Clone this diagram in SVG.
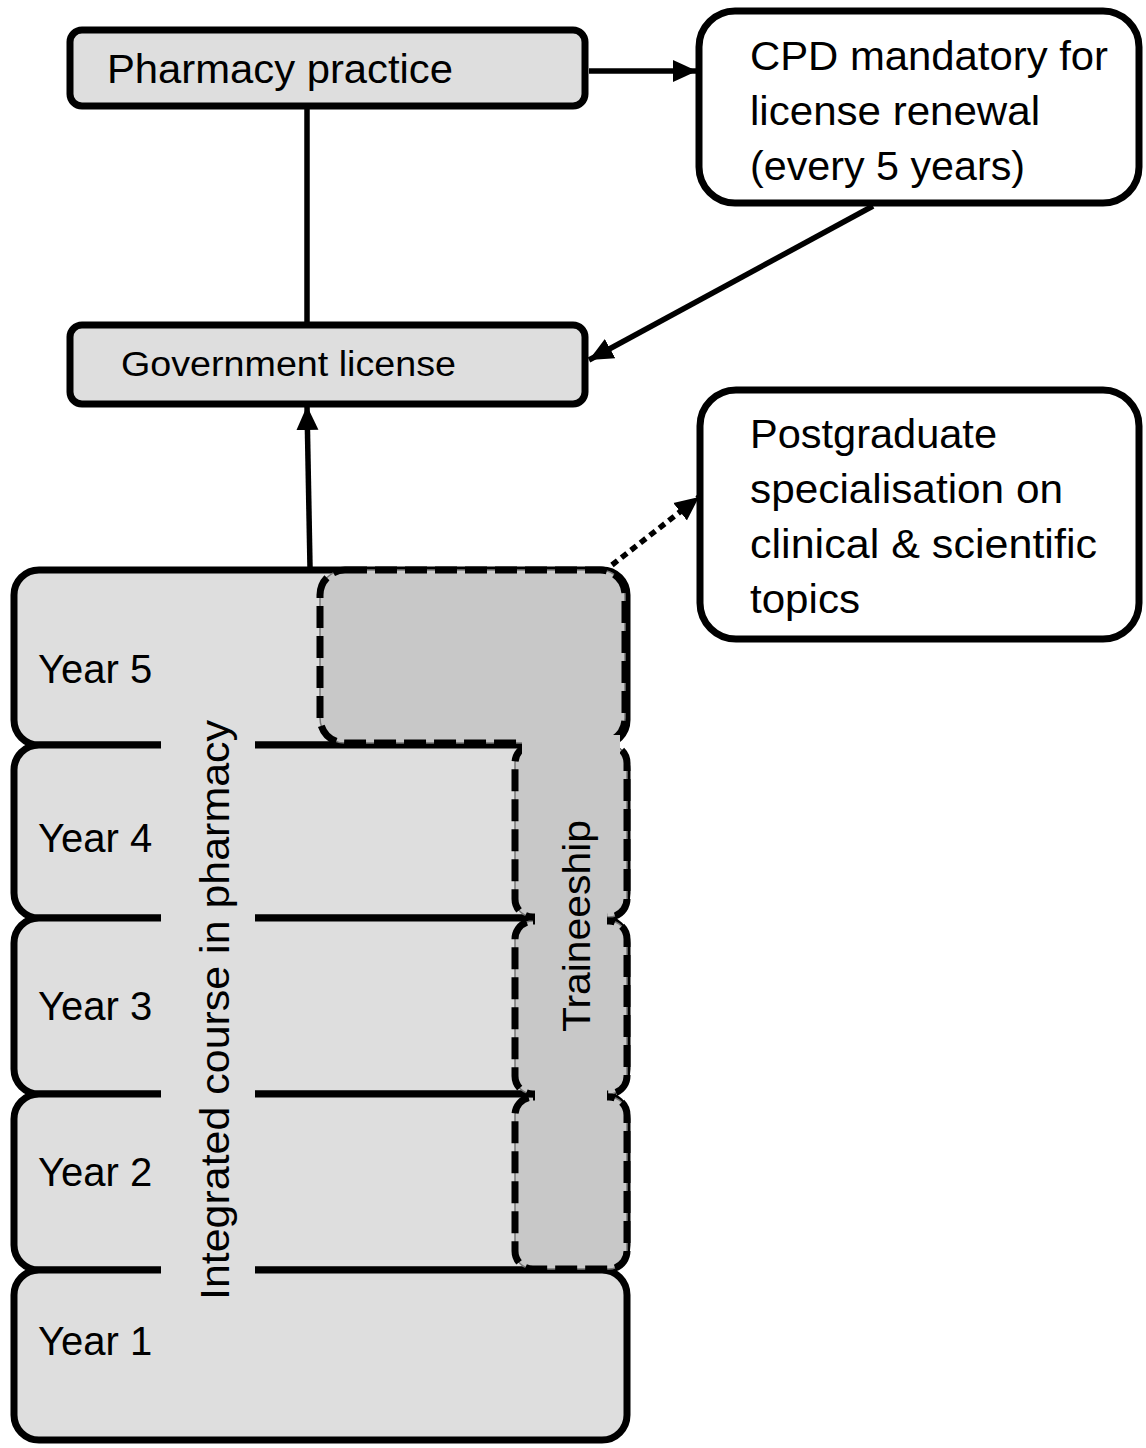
<svg xmlns="http://www.w3.org/2000/svg" width="1146" height="1448" viewBox="0 0 1146 1448">
<style>
.box{fill:#dedede;stroke:#000;stroke-width:7}
.wbox{fill:#fff;stroke:#000;stroke-width:7}
.yr{fill:#dedede;stroke:#000;stroke-width:7}
.tr{fill:#c8c8c8;stroke:#777;stroke-width:1.5}
.trd{fill:none;stroke:#000;stroke-width:7;stroke-dasharray:22 8}
.t{font-family:"Liberation Sans",Arial,sans-serif;fill:#000}
.con{stroke:#000;stroke-width:5.5;fill:none}
</style>
<defs>
<marker id="ah" markerUnits="userSpaceOnUse" markerWidth="26" markerHeight="26" viewBox="0 0 26 26" refX="24" refY="13" orient="auto">
<path d="M0,2 L24,13 L0,24 Z" fill="#000"/>
</marker>
</defs>
<rect width="1146" height="1448" fill="#fff"/>

<g id="year5"><rect class="yr" x="14" y="570" width="613" height="175" rx="25"/></g>
<g id="year4"><rect class="yr" x="14" y="745" width="613" height="173" rx="25"/></g>
<g id="year3"><rect class="yr" x="14" y="918" width="613" height="176" rx="25"/></g>
<g id="year2"><rect class="yr" x="14" y="1094" width="613" height="176" rx="25"/></g>
<g id="year1"><rect class="yr" x="14" y="1270" width="613" height="170" rx="25"/></g>

<g id="integrated">
<rect x="161" y="730" width="94" height="570" fill="#dedede"/>
<text class="t" font-size="40" text-anchor="middle" textLength="580" lengthAdjust="spacingAndGlyphs" transform="translate(229,1010) rotate(-90)">Integrated course in pharmacy</text>
</g>

<g id="traineeship">
<rect class="tr" x="320" y="570" width="305" height="173" rx="25"/>
<rect class="tr" x="515" y="745" width="112" height="172" rx="18"/>
<rect class="tr" x="515" y="921" width="112" height="173" rx="18"/>
<rect class="tr" x="515" y="1097" width="112" height="172" rx="18"/>
<rect class="trd" x="320" y="570" width="305" height="173" rx="25"/>
<rect class="trd" x="515" y="745" width="112" height="172" rx="18"/>
<rect class="trd" x="515" y="921" width="112" height="173" rx="18"/>
<rect class="trd" x="515" y="1097" width="112" height="172" rx="18"/>
<rect x="522" y="735" width="98" height="20" fill="#c8c8c8"/>
<rect x="535" y="740" width="72" height="370" fill="#c8c8c8"/>
<text class="t" font-size="39" text-anchor="middle" textLength="212" lengthAdjust="spacingAndGlyphs" transform="translate(590,926) rotate(-90)">Traineeship</text>
</g>

<g id="year-labels">
<text class="t" font-size="40" x="38" y="683">Year 5</text>
<text class="t" font-size="40" x="38" y="852">Year 4</text>
<text class="t" font-size="40" x="38" y="1020">Year 3</text>
<text class="t" font-size="40" x="38" y="1186">Year 2</text>
<text class="t" font-size="40" x="38" y="1355">Year 1</text>
</g>

<g id="pharmacy-practice">
<rect class="box" x="70" y="30" width="515" height="76" rx="12"/>
<text class="t" font-size="40" x="107" y="83" textLength="346" lengthAdjust="spacingAndGlyphs">Pharmacy practice</text>
</g>

<g id="government-license">
<rect class="box" x="70" y="325" width="515" height="79" rx="12"/>
<text class="t" font-size="35" x="121" y="376" textLength="335" lengthAdjust="spacingAndGlyphs">Government license</text>
</g>

<g id="cpd">
<rect class="wbox" x="699" y="11" width="440" height="192" rx="36"/>
<text class="t" font-size="41" x="750" y="70" textLength="358" lengthAdjust="spacingAndGlyphs">CPD mandatory for</text>
<text class="t" font-size="41" x="750" y="125" textLength="290" lengthAdjust="spacingAndGlyphs">license renewal</text>
<text class="t" font-size="41" x="750" y="180" textLength="275" lengthAdjust="spacingAndGlyphs">(every 5 years)</text>
</g>

<g id="postgraduate">
<rect class="wbox" x="700" y="390" width="439" height="249" rx="36"/>
<text class="t" font-size="41" x="750" y="448" textLength="247" lengthAdjust="spacingAndGlyphs">Postgraduate</text>
<text class="t" font-size="41" x="750" y="503" textLength="313" lengthAdjust="spacingAndGlyphs">specialisation on</text>
<text class="t" font-size="41" x="750" y="558" textLength="347" lengthAdjust="spacingAndGlyphs">clinical &amp; scientific</text>
<text class="t" font-size="41" x="750" y="613" textLength="110" lengthAdjust="spacingAndGlyphs">topics</text>
</g>

<g id="connectors">
<line class="con" x1="589" y1="71" x2="697" y2="71" marker-end="url(#ah)"/>
<line class="con" x1="307" y1="106" x2="307" y2="325"/>
<line class="con" x1="873" y1="206" x2="589" y2="360" marker-end="url(#ah)"/>
<line class="con" x1="310" y1="567" x2="307" y2="406" marker-end="url(#ah)"/>
<line class="con" x1="612" y1="565" x2="699" y2="497" stroke-width="7" stroke-dasharray="7 5" marker-end="url(#ah)"/>
</g>
</svg>
